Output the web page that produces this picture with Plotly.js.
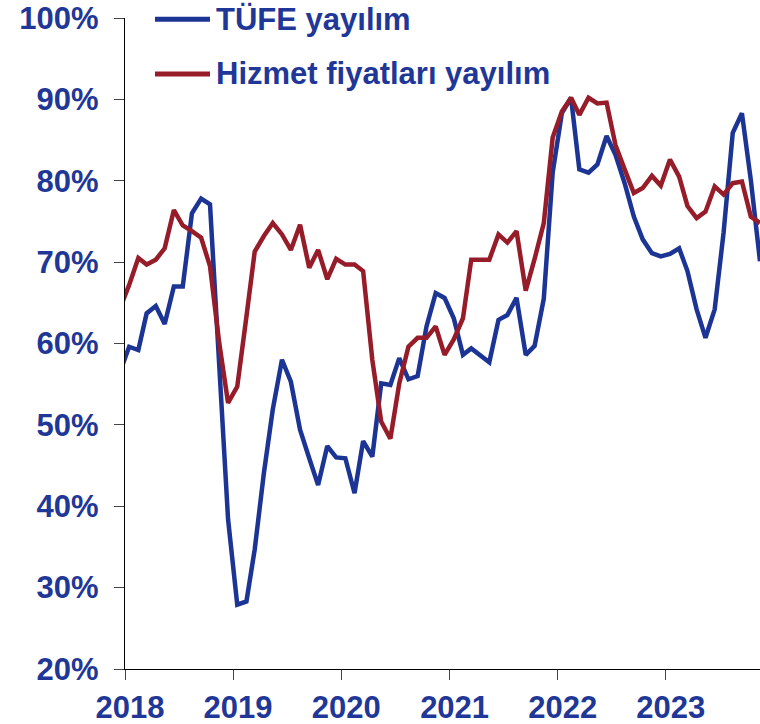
<!DOCTYPE html>
<html>
<head>
<meta charset="utf-8">
<script src="https://cdn.plot.ly/plotly-3.0.1.min.js"></script>
<style>
  html, body { margin: 0; padding: 0; background: #fff; }
  #chart { width: 760px; height: 724px; }
</style>
</head>
<body>
<div id="chart"></div>
<script>
// Monthly observations (plotted mid-month), Dec 2017 – Nov 2023
const months = [
  '2017-12-15',
  '2018-01-15','2018-02-15','2018-03-15','2018-04-15','2018-05-15','2018-06-15','2018-07-15','2018-08-15','2018-09-15','2018-10-15','2018-11-15','2018-12-15',
  '2019-01-15','2019-02-15','2019-03-15','2019-04-15','2019-05-15','2019-06-15','2019-07-15','2019-08-15','2019-09-15','2019-10-15','2019-11-15','2019-12-15',
  '2020-01-15','2020-02-15','2020-03-15','2020-04-15','2020-05-15','2020-06-15','2020-07-15','2020-08-15','2020-09-15','2020-10-15','2020-11-15','2020-12-15',
  '2021-01-15','2021-02-15','2021-03-15','2021-04-15','2021-05-15','2021-06-15','2021-07-15','2021-08-15','2021-09-15','2021-10-15','2021-11-15','2021-12-15',
  '2022-01-15','2022-02-15','2022-03-15','2022-04-15','2022-05-15','2022-06-15','2022-07-15','2022-08-15','2022-09-15','2022-10-15','2022-11-15','2022-12-15',
  '2023-01-15','2023-02-15','2023-03-15','2023-04-15','2023-05-15','2023-06-15','2023-07-15','2023-08-15','2023-09-15','2023-10-15','2023-11-15'
];

// TÜFE yayılım (%)
const tufe = [
  56.5,
  59.6, 59.2, 63.7, 64.6, 62.4, 67.0, 67.0, 76.0, 77.8, 77.1, 58.0, 38.4,
  27.9, 28.3, 34.7, 44.1, 51.9, 58.0, 55.3, 49.4, 45.9, 42.6, 47.4, 46.0,
  45.9, 41.6, 48.0, 46.1, 55.1, 54.9, 58.2, 55.6, 56.0, 62.1, 66.2, 65.6,
  63.1, 58.6, 59.4, 58.6, 57.7, 62.9, 63.5, 65.6, 58.6, 59.7, 65.5, 81.0,
  88.3, 90.2, 81.4, 81.0, 82.0, 85.5, 83.2, 79.7, 75.6, 72.8, 71.1, 70.7,
  71.0, 71.7, 68.9, 64.2, 60.7, 64.2, 73.6, 85.9, 88.3, 80.1, 70.1
];

// Hizmet fiyatları yayılım (%)
const hizmet = [
  64.3,
  67.2, 70.5, 69.7, 70.3, 71.7, 76.4, 74.5, 73.8, 73.0, 69.5, 60.1, 52.7,
  54.7, 63.3, 71.3, 73.2, 74.8, 73.4, 71.5, 74.6, 69.3, 71.5, 67.9, 70.4,
  69.7, 69.7, 68.9, 58.0, 50.4, 48.3, 55.1, 59.6, 60.7, 60.7, 62.1, 58.6,
  60.5, 63.1, 70.3, 70.3, 70.3, 73.4, 72.4, 73.8, 66.5, 70.4, 74.8, 85.3,
  88.5, 90.2, 88.1, 90.2, 89.5, 89.6, 84.4, 81.4, 78.5, 79.1, 80.6, 79.4,
  82.6, 80.5, 76.9, 75.4, 76.2, 79.3, 78.3, 79.7, 79.9, 75.6, 74.8
];

const seriesNames = ['TÜFE yayılım', 'Hizmet fiyatları yayılım'];
const yearTicks = ['2018-01-01','2019-01-01','2020-01-01','2021-01-01','2022-01-01','2023-01-01'];
const yearLabels = ['2018','2019','2020','2021','2022','2023'];
const pctTicks = [20, 30, 40, 50, 60, 70, 80, 90, 100];
const pctLabels = ['20%', '30%', '40%', '50%', '60%', '70%', '80%', '90%', '100%'];

const BLUE = '#1c3494';
const RED = '#951c28';
const TEXT = '#1f3797';
const FONT = 'Liberation Sans, Arial, Helvetica, sans-serif';

const traces = [
  { x: months, y: tufe, name: seriesNames[0], type: 'scatter', mode: 'lines',
    line: { color: BLUE, width: 4.5 }, showlegend: false },
  { x: months, y: hizmet, name: seriesNames[1], type: 'scatter', mode: 'lines',
    line: { color: RED, width: 4.5 }, showlegend: false }
];

const L = 125, R = 0, T = 18, B = 55, W = 760, H = 724;
const pw = W - L - R, ph = H - T - B;
const px = v => (v - L) / pw;
const py = v => (H - B - v) / ph;

const layout = {
  width: W, height: H,
  margin: { l: L, r: R, t: T, b: B, pad: 0 },
  paper_bgcolor: '#fff', plot_bgcolor: '#fff',
  font: { family: FONT, color: TEXT },
  showlegend: false,
  xaxis: {
    type: 'date',
    range: ['2018-01-01', '2023-11-15'],
    tickmode: 'array', tickvals: yearTicks, ticktext: yearLabels,
    ticks: 'outside', ticklen: 10, tickwidth: 1, tickcolor: '#444',
    showline: true, linecolor: '#000', linewidth: 1.3,
    showgrid: false, zeroline: false,
    ticklabelshift: 5,
    tickfont: { family: FONT, size: 31, color: TEXT, weight: 'bold' }
  },
  yaxis: {
    range: [20, 100],
    tickmode: 'array', tickvals: pctTicks, ticktext: pctLabels,
    ticks: 'outside', ticklen: 10, tickwidth: 1, tickcolor: '#444',
    showline: true, linecolor: '#000', linewidth: 1.3,
    showgrid: false, zeroline: false,
    ticklabelstandoff: 9,
    tickfont: { family: FONT, size: 31, color: TEXT, weight: 'bold' }
  },
  shapes: [
    { type: 'line', xref: 'paper', yref: 'paper', x0: px(155), x1: px(210), y0: py(19.3), y1: py(19.3),
      line: { color: BLUE, width: 5 } },
    { type: 'line', xref: 'paper', yref: 'paper', x0: px(155), x1: px(210), y0: py(74), y1: py(74),
      line: { color: RED, width: 5 } }
  ],
  annotations: [
    { xref: 'paper', yref: 'paper', x: px(214), y: py(19.3), xanchor: 'left', yanchor: 'middle',
      text: seriesNames[0], showarrow: false,
      font: { family: FONT, size: 31, color: TEXT, weight: 'bold' } },
    { xref: 'paper', yref: 'paper', x: px(214), y: py(73), xanchor: 'left', yanchor: 'middle',
      text: seriesNames[1], showarrow: false,
      font: { family: FONT, size: 31, color: TEXT, weight: 'bold' } }
  ]
};

Plotly.newPlot('chart', traces, layout, { displayModeBar: false, staticPlot: true });
</script>
</body>
</html>
